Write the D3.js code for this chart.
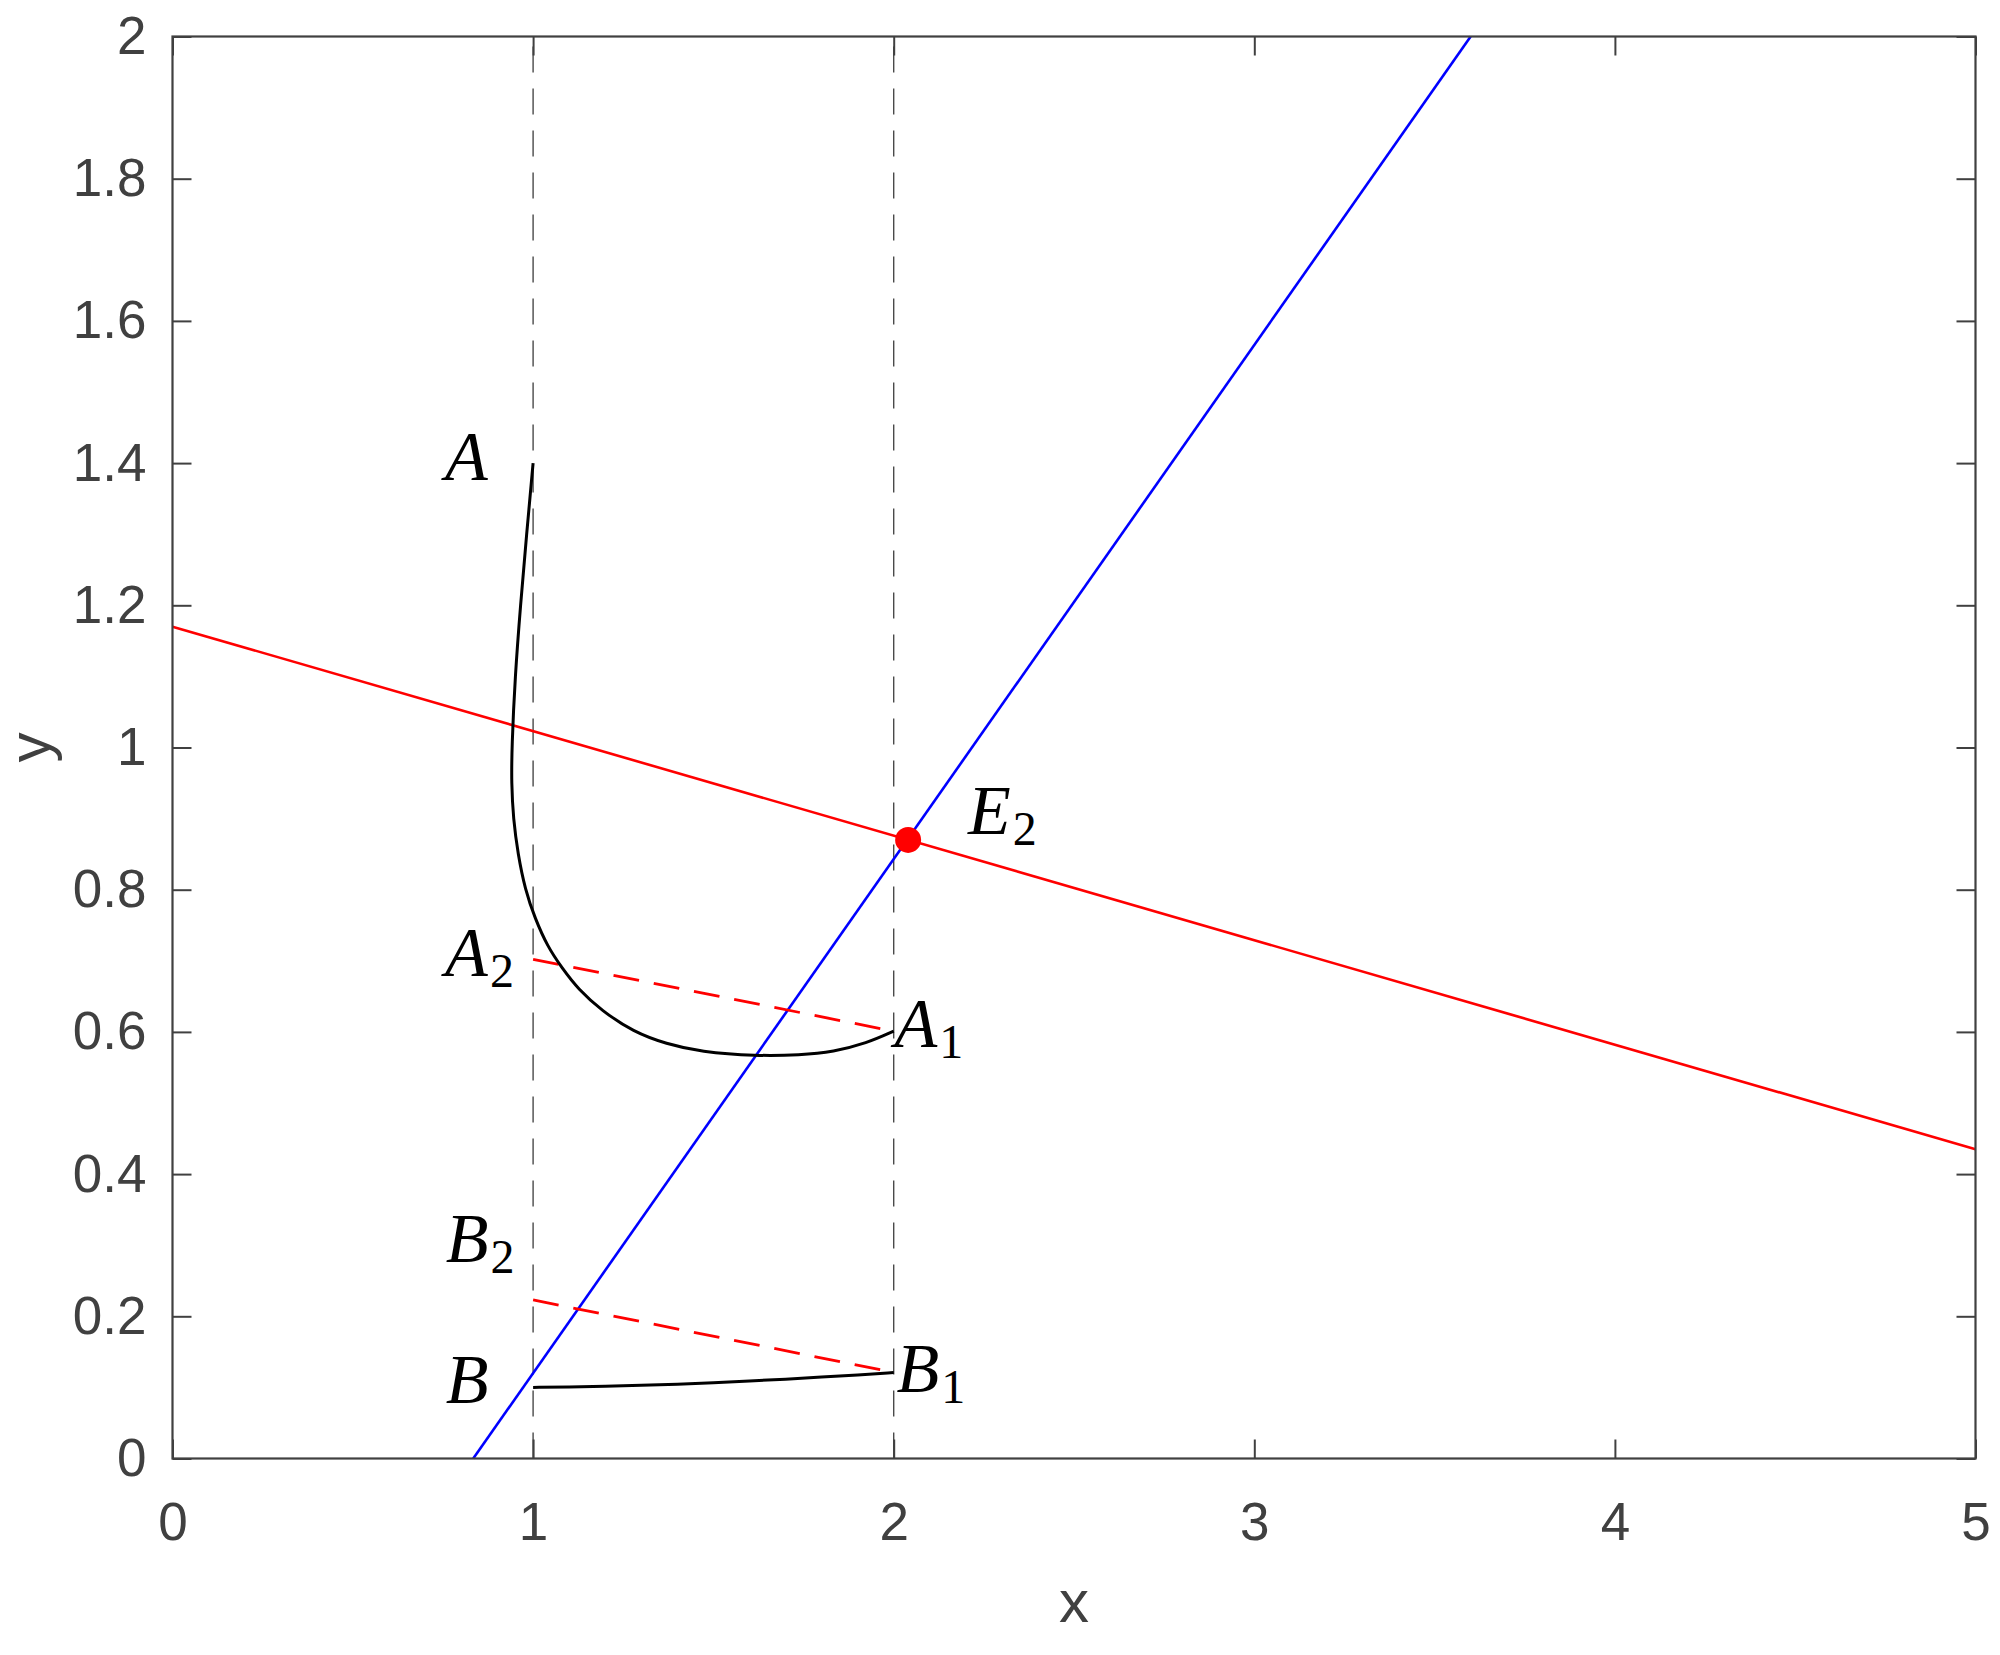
<!DOCTYPE html>
<html><head><meta charset="utf-8">
<script src="https://cdn.jsdelivr.net/npm/d3@7"></script>
<style>body{margin:0;background:#fff}</style></head><body>
<svg id="c" width="2000" height="1655"></svg>
<script>
// ---- data ----
const xTicks = [0, 1, 2, 3, 4, 5];
const yTicks = [0, 0.2, 0.4, 0.6, 0.8, 1, 1.2, 1.4, 1.6, 1.8, 2];
const yTickLabels = ["0", "0.2", "0.4", "0.6", "0.8", "1", "1.2", "1.4", "1.6", "1.8", "2"];
const guideX = [1, 2];
const blueX = [0.834, 3.60], blueY = [0, 2];
const redX = [0, 5], redY = [1.170, 0.435];
const curveAX = [1.000, 0.982, 0.965, 0.950, 0.941, 0.940, 0.945, 0.958, 0.978, 1.005, 1.040, 1.080, 1.125, 1.190, 1.278, 1.370, 1.463, 1.620, 1.740, 1.833, 1.925, 2.000];
const curveAY = [1.400, 1.300, 1.200, 1.100, 1.000, 0.950, 0.900, 0.850, 0.800, 0.760, 0.720, 0.690, 0.660, 0.630, 0.600, 0.583, 0.572, 0.566, 0.5675, 0.572, 0.584, 0.601];
const curveBX = [1.0, 1.1, 1.2, 1.3, 1.4, 1.5, 1.6, 1.7, 1.8, 1.9, 2.0];
const curveBY = [0.100, 0.1005, 0.1015, 0.103, 0.1045, 0.1065, 0.109, 0.1115, 0.1145, 0.1175, 0.121];
const dashAX = [1, 2], dashAY = [0.702, 0.601];
const dashBX = [1, 2], dashBY = [0.223, 0.121];
const eqPoint = [2.04, 0.870];
const labelNames = ["A", "A", "A", "B", "B", "B", "E"];
const labelSubs  = ["", "2", "1", "2", "", "1", "2"];
const labelX = [0.756, 0.756, 2.002, 0.758, 0.758, 2.008, 2.206];
const labelY = [1.376, 0.678, 0.579, 0.277, 0.0785, 0.094, 0.878];

// ---- layout ----
const L = 172.5, R = 1975.5, T = 36.5, B = 1458.5;
const axisCol = "#404040";
const svg = d3.select("#c");
const x = d3.scaleLinear().domain([0, 5]).range([L, R]);
const y = d3.scaleLinear().domain([0, 2]).range([B, T]);
const line = d3.line().x(d => x(d[0])).y(d => y(d[1]));
const zip = (a, b) => a.map((v, i) => [v, b[i]]);

// guides
guideX.forEach(g => {
  svg.append("path").attr("d", line([[g, 0], [g, 2]]))
    .attr("stroke", "#4a4a4a").attr("stroke-width", 1.4).attr("fill", "none")
    .attr("stroke-dasharray", "26,16");
});

// main lines
svg.append("path").attr("d", line(zip(redX, redY))).attr("stroke", "#ff0000").attr("stroke-width", 2.6).attr("fill", "none");
svg.append("path").attr("d", line(zip(blueX, blueY))).attr("stroke", "#0000ff").attr("stroke-width", 2.6).attr("fill", "none");

// dashed red segments
[[dashAX, dashAY], [dashBX, dashBY]].forEach(([dx, dy]) => {
  svg.append("path").attr("d", line(zip(dx, dy))).attr("stroke", "#ff0000").attr("stroke-width", 2.8)
    .attr("fill", "none").attr("stroke-dasharray", "26,15");
});

// trajectories
const smooth = d3.line().x(d => x(d[0])).y(d => y(d[1])).curve(d3.curveBasis);
svg.append("path").attr("d", smooth(zip(curveAX, curveAY))).attr("stroke", "#000").attr("stroke-width", 3).attr("fill", "none");
svg.append("path").attr("d", smooth(zip(curveBX, curveBY))).attr("stroke", "#000").attr("stroke-width", 3).attr("fill", "none");

// equilibrium
svg.append("circle").attr("cx", x(eqPoint[0])).attr("cy", y(eqPoint[1])).attr("r", 13).attr("fill", "#ff0000");

// labels
labelNames.forEach((n, i) => {
  const t = svg.append("text").attr("x", x(labelX[i])).attr("y", y(labelY[i]))
    .attr("font-family", "'Liberation Serif', 'DejaVu Serif', serif").attr("fill", "#000");
  t.append("tspan").text(n).attr("font-style", "italic").attr("font-size", 70);
  if (labelSubs[i]) t.append("tspan").text(labelSubs[i]).attr("font-size", 48).attr("dy", 11).attr("dx", 2);
});

// axes
const tickFont = "'Liberation Sans', Arial, Helvetica, sans-serif";
function styleAxis(g) {
  g.select(".domain").remove();
  g.selectAll(".tick line").attr("stroke", axisCol).attr("stroke-width", 2);
  g.selectAll(".tick text").attr("fill", axisCol).attr("font-size", 53).attr("font-family", tickFont);
}
svg.append("g").attr("transform", `translate(0,${B})`)
  .call(d3.axisBottom(x).tickValues(xTicks).tickFormat(d3.format("d")).tickSizeInner(-19).tickSizeOuter(0).tickPadding(44))
  .call(styleAxis);
svg.append("g").attr("transform", `translate(0,${T})`)
  .call(d3.axisTop(x).tickValues(xTicks).tickFormat("").tickSizeInner(-19).tickSizeOuter(0))
  .call(styleAxis);
svg.append("g").attr("transform", `translate(${L},0)`)
  .call(d3.axisLeft(y).tickValues(yTicks).tickFormat((d, i) => yTickLabels[i]).tickSizeInner(-19).tickSizeOuter(0).tickPadding(26))
  .call(styleAxis);
svg.append("g").attr("transform", `translate(${R},0)`)
  .call(d3.axisRight(y).tickValues(yTicks).tickFormat("").tickSizeInner(-19).tickSizeOuter(0))
  .call(styleAxis);

// box
svg.append("rect").attr("x", L).attr("y", T).attr("width", R - L).attr("height", B - T)
  .attr("fill", "none").attr("stroke", axisCol).attr("stroke-width", 2.2);

// axis titles
svg.append("text").attr("x", (L + R) / 2).attr("y", 1622).attr("text-anchor", "middle")
  .attr("font-size", 60).attr("font-family", tickFont).attr("fill", axisCol).text("x");
svg.append("text").attr("transform", `translate(50,${(T + B) / 2}) rotate(-90)`).attr("text-anchor", "middle")
  .attr("font-size", 60).attr("font-family", tickFont).attr("fill", axisCol).text("y");
</script>
</body></html>
